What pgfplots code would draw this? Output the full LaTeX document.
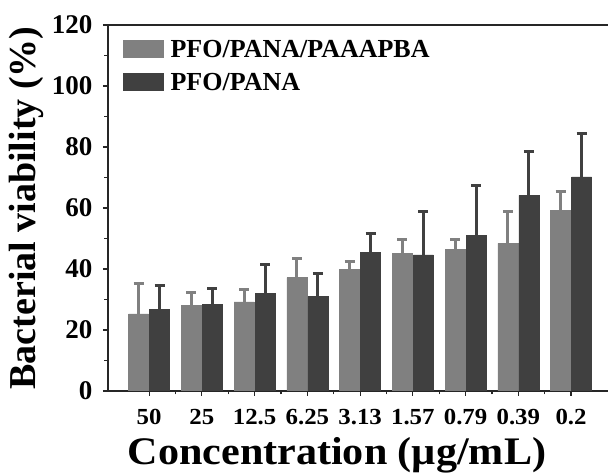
\documentclass[border=0pt]{standalone}
\usepackage{pgfplots}
\pgfplotsset{compat=1.18}
\usepackage{fontspec}
\setmainfont{Liberation Serif}
\newfontfamily\widefont{Liberation Serif}[FakeStretch=1.08]
\definecolor{lightbar}{RGB}{128,128,128}
\definecolor{darkbar}{RGB}{64,64,64}

\begin{document}
\begin{tikzpicture}
\useasboundingbox (-108pt,-82pt) rectangle (500pt,391pt);
\begin{axis}[
    at={(0pt,0pt)}, anchor=south west,
    scale only axis, width=500pt, height=366pt,
    xmin=-0.78, xmax=8.70, ymin=0, ymax=120,
    axis x line*=box, axis y line*=left,
    axis line style={-, line width=1.5pt, black!85},
    xtick pos=bottom, ytick pos=left,
    xtick={0,...,8},
    xticklabels={50,25,12.5,6.25,3.13,1.57,0.79,0.39,0.2},
    ytick={0,20,...,120},
    minor x tick num=1, minor y tick num=1,
    tick align=outside,
    major tick length=5pt, minor tick length=3.5pt,
    tick style={line width=1.2pt, black!85},
    /pgf/number format/assume math mode=true,
    yticklabel style={font=\bfseries\fontsize{27}{27}\selectfont, xshift=-7pt},
    xticklabel style={font=\widefont\bfseries\fontsize{23}{23}\selectfont, yshift=-10pt},
    xlabel={Concentration (µg/mL)},
    xlabel style={font=\widefont\bfseries\fontsize{39}{39}\selectfont, xshift=-21pt, yshift=-5pt},
    ylabel={Bacterial viability (\%)},
    ylabel style={font=\bfseries\fontsize{38}{38}\selectfont},
    ylabel shift=1pt,
    ybar=1pt, bar width=20pt,
    legend style={at={(0,1)}, anchor=north west, xshift=15pt, yshift=-13pt,
        draw=none, fill=none, inner sep=0pt, row sep=10pt,
        font=\bfseries\fontsize{26}{26}\selectfont,
        nodes={inner sep=2pt},
        /tikz/every odd column/.append style={column sep=5pt}},
    legend cell align=left,
]
\addplot[fill=lightbar, draw=lightbar,
    legend image code/.code={\fill[lightbar] (0pt,-8pt) rectangle (40pt,9pt);},
    error bars/.cd, y dir=plus, y explicit,
    error bar style={line width=3pt, lightbar},
    error mark options={rotate=90, mark size=5pt, line width=3pt, lightbar}]
  coordinates {
    (0,25.3) +- (0,10.0)
    (1,28.1) +- (0,4.3)
    (2,29.2) +- (0,4.2)
    (3,37.2) +- (0,6.3)
    (4,39.9) +- (0,2.5)
    (5,45.1) +- (0,4.7)
    (6,46.5) +- (0,3.3)
    (7,48.4) +- (0,10.4)
    (8,59.2) +- (0,6.2)
  };
\addlegendentry{PFO/PANA/PAAAPBA}
\addplot[fill=darkbar, draw=darkbar,
    legend image code/.code={\fill[darkbar] (0pt,-8pt) rectangle (40pt,9pt);},
    error bars/.cd, y dir=plus, y explicit,
    error bar style={line width=3pt, darkbar},
    error mark options={rotate=90, mark size=5pt, line width=3pt, darkbar}]
  coordinates {
    (0,26.7) +- (0,7.9)
    (1,28.5) +- (0,5.2)
    (2,32.1) +- (0,9.4)
    (3,31.0) +- (0,7.6)
    (4,45.4) +- (0,6.2)
    (5,44.6) +- (0,14.2)
    (6,51.1) +- (0,16.2)
    (7,64.1) +- (0,14.4)
    (8,70.2) +- (0,14.2)
  };
\addlegendentry{PFO/PANA}
\end{axis}
\end{tikzpicture}
\end{document}
